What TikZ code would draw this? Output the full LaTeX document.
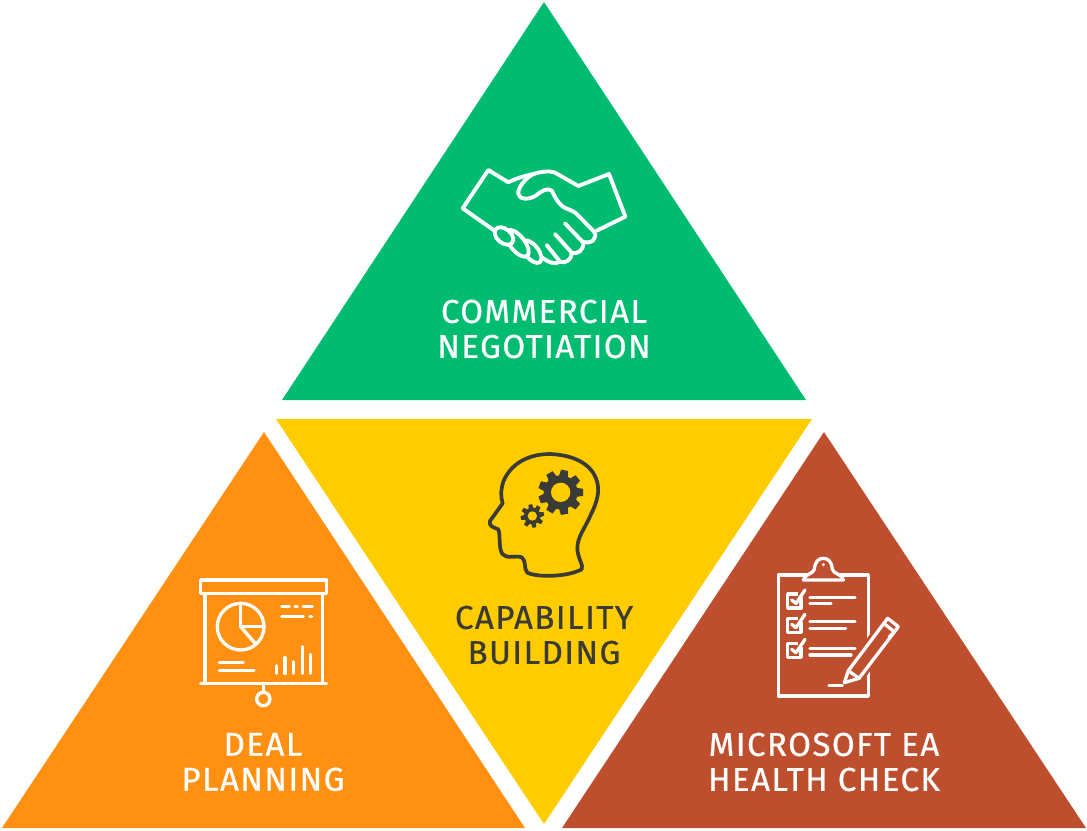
\documentclass[tikz,border=0pt]{standalone}
\usepackage{xcolor}
\usepackage{fontspec}
\setmainfont{Fira Sans}[LetterSpace=4.5,FakeBold=0.7]
\usepackage{tikz}
\usetikzlibrary{calc}
\definecolor{dealgreen}{HTML}{00BC70}
\definecolor{dealyellow}{HTML}{FFCC00}
\definecolor{dealorange}{HTML}{FF9011}
\definecolor{dealred}{HTML}{BE4F2E}
\definecolor{ink}{HTML}{3A3A36}
\tikzset{
  lab/.style={text=white, font=\fontsize{33}{35}\selectfont, align=center, inner sep=0pt},
  labd/.style={lab, text=ink},
  iconw/.style={draw=white, line width=3.3pt, line cap=round, line join=round},
  icong/.style={draw=white, line width=3.9pt, line cap=round, line join=round},
  iconh/.style={draw=ink, line width=3.7pt, line cap=round, line join=round},
}
\newcommand{\gearicon}[6]{% x, y, outer, root, hole, teeth
  \fill[ink] (#1,#2) circle [radius=#4];
  \foreach \a in {1,...,#6}
    \fill[ink, rotate around={\a*360/#6+10:(#1,#2)}] ($(#1,#2)+(-0.3*#3,0)$) -- ($(#1,#2)+(-0.16*#3,#3)$) -- ($(#1,#2)+(0.16*#3,#3)$) -- ($(#1,#2)+(0.3*#3,0)$) -- cycle;
  \fill[dealyellow] (#1,#2) circle [radius=#5];
}

\begin{document}
\begin{tikzpicture}[x=1pt,y=-1pt]
\useasboundingbox (0,0) rectangle (1087,830);

% triangles
\fill[dealgreen] (544,2) -- (806,400) -- (282,400) -- cycle;
\fill[dealyellow] (276,419) -- (812,419) -- (544,824) -- cycle;
\fill[dealorange] (264,432) -- (525,828) -- (2,828) -- cycle;
\fill[dealred] (824,432) -- (1086,828) -- (562,828) -- cycle;

% labels
\node[lab] (negotiation) at (544,329) {COMMERCIAL\\NEGOTIATION};
\node[labd] (capability) at (544,635) {CAPABILITY\\BUILDING};
\node[lab] (planning) at (263,762) {DEAL\\PLANNING};
\node[lab] (healthcheck) at (824,762) {MICROSOFT EA\\HEALTH CHECK};

% handshake
\begin{scope}[shift={(440,150)},scale=1/3]
\draw[icong] (205,97) -- (145,60) -- (68,175) -- (165,243);
\draw[icong] (205,97) .. controls (235,82) and (255,78) .. (280,72) .. controls (300,66) and (325,60) .. (345,68) -- (415,108) -- (507,72) -- (556,200) -- (470,242);
\draw[icong] (280,72) .. controls (255,85) and (232,115) .. (235,132) .. controls (238,150) and (270,150) .. (290,135) .. controls (305,123) and (322,112) .. (335,122) .. controls (345,140) and (355,165) .. (378,175) .. controls (395,182) and (405,185) .. (415,197) -- (462,245) .. controls (475,262) and (455,285) .. (428,275);
\draw[icong] (375,220) -- (430,278) .. controls (432,300) and (412,315) .. (395,308) -- (345,252);
\draw[icong] (395,308) .. controls (395,330) and (375,342) .. (360,335) -- (320,285);
\draw[icong] (360,335) .. controls (345,345) and (325,338) .. (300,318);
\draw[icong, fill=dealgreen, rotate around={-52:(275,305)}] (275,305) ellipse [x radius=40, y radius=20];
\draw[icong, fill=dealgreen, rotate around={-52:(232,280)}] (232,280) ellipse [x radius=48, y radius=22];
\draw[icong, fill=dealgreen, rotate around={-40:(192,258)}] (192,258) ellipse [x radius=32, y radius=21];
\end{scope}

% head and gears
\begin{scope}[shift={(470,440)},scale=1/3]
\draw[iconh] (335,388) .. controls (342,378) and (322,352) .. (322,325) .. controls (322,290) and (345,265) .. (362,225) .. controls (382,185) and (392,150) .. (378,115) .. controls (360,70) and (310,45) .. (240,42) .. controls (170,42) and (120,75) .. (100,125) .. controls (92,150) and (92,170) .. (98,190) -- (60,243) .. controls (55,258) and (70,262) .. (85,268) .. controls (92,285) and (85,325) .. (97,342) .. controls (110,358) and (140,345) .. (155,352) .. controls (170,362) and (160,385) .. (172,398) .. controls (200,412) and (290,412) .. (335,388) -- cycle;
\gearicon{272}{157}{67}{51}{29}{9}
\gearicon{187}{228}{35}{25}{14}{8}
\end{scope}

% presentation board
\begin{scope}[shift={(190,565)},scale=1/3]
\draw[iconw] (32,45) rectangle (410,85);
\draw[iconw] (45,85) -- (45,355);
\draw[iconw] (397,85) -- (397,355);
\draw[iconw] (32,355) -- (410,355);
\draw[iconw] (220,355) -- (220,382);
\draw[iconw] (220,402) circle [radius=20];
\draw[iconw] (152,185) circle [radius=70];
\draw[iconw] (152,115) -- (152,185) -- (222,185);
\draw[iconw] (152,185) -- (198,238);
\draw[iconw] (275,125) -- (298,125);
\draw[iconw] (315,125) -- (322,125);
\draw[iconw] (340,125) -- (367,125);
\draw[iconw] (275,155) -- (340,155);
\draw[iconw] (360,155) -- (365,155);
\draw[iconw] (88,292) -- (160,292);
\draw[iconw] (88,317) -- (192,317);
\foreach \x/\y in {260/302,285/278,311/290,337/245,362/268}
  \draw[iconw] (\x,\y) -- (\x,325);
\end{scope}

% clipboard and pen
\begin{scope}[shift={(765,550)},scale=1/3]
\draw[iconw, line cap=butt] (40,75) rectangle (310,438);
\draw[iconw, fill=dealred] (115,90) .. controls (118,72) and (145,72) .. (148,58) .. controls (150,35) and (160,25) .. (175,25) .. controls (190,25) and (200,35) .. (202,58) .. controls (205,72) and (232,72) .. (235,90) -- cycle;
\fill[white] (175,44) circle [radius=5];
\foreach \y in {132,205,280}
{
  \draw[iconw] (68,\y) rectangle (108,\y+42);
  \fill[dealred] (100,\y-14) rectangle (125,\y+10);
  \draw[iconw] (80,\y+18) -- (93,\y+28) -- (120,\y-12);
}
\draw[iconw] (135,142) -- (270,142);
\draw[iconw] (135,160) -- (198,160);
\draw[iconw] (135,215) -- (270,215);
\draw[iconw] (135,235) -- (242,235);
\draw[iconw] (135,295) -- (270,295);
\draw[iconw] (135,315) -- (258,315);
\draw[dealred, line width=9pt, line join=round, fill=dealred] (238,398) -- (250,362) -- (368,205) -- (400,230) -- (282,385) -- cycle;
\draw[iconw] (238,398) -- (250,362) -- (368,205) -- (400,230) -- (282,385) -- cycle;
\draw[iconw] (250,362) -- (282,385);
\draw[iconw] (356,220) -- (388,245);
\draw[iconw] (372,262) -- (388,245);
\draw[iconw] (192,407) -- (232,407);
\end{scope}
\end{tikzpicture}
\end{document}
